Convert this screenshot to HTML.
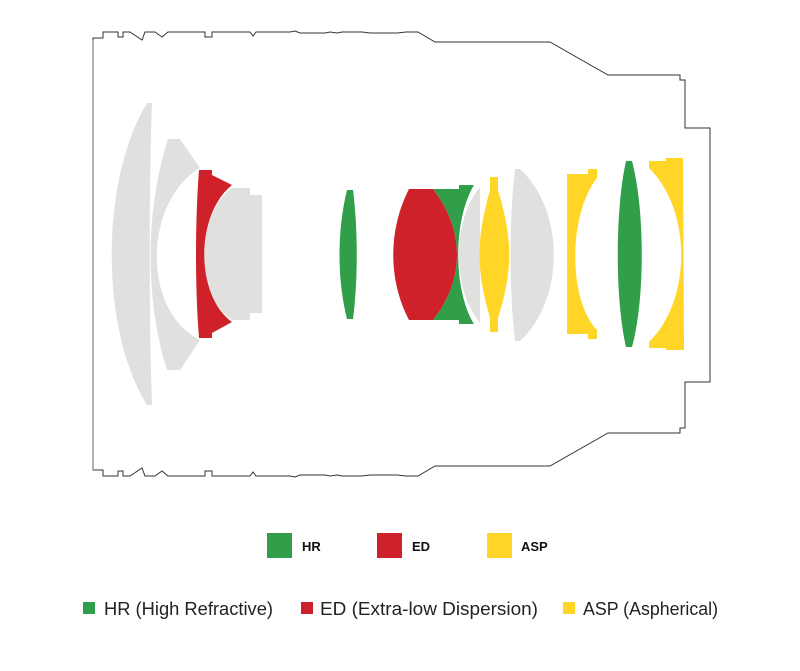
<!DOCTYPE html>
<html><head><meta charset="utf-8"><style>
html,body{margin:0;padding:0;background:#fff;}
svg{display:block;}
</style></head><body>
<svg width="800" height="671" viewBox="0 0 800 671" xmlns="http://www.w3.org/2000/svg">
<path d="M93,470 L93,38 L103,38 L103,32 L118,32 L118,37 L123,37 L123,32 L130,32 L142,40 L145,32 L155,32 L162,37 L168,32 L205,32 L205,37 L212,37 L212,32 L250,32 L253,36 L256,32 L290,32 L295,31 L300,33 L325,33 L330,32 L337,33 L342,32 L362,32 L370,33 L397,33 L406,32 L418,32 L435,42 L550,42 L608,75 L680,75 L680,80 L685,80 L685,128 L710,128 L710,382 L685,382 L685,428 L680,428 L680,433 L608,433 L550,466 L435,466 L418,476 L406,476 L397,475 L370,475 L362,476 L342,476 L337,475 L330,476 L325,475 L300,475 L295,477 L290,476 L256,476 L253,472 L250,476 L212,476 L212,471 L205,471 L205,476 L168,476 L162,471 L155,476 L145,476 L142,468 L130,476 L123,476 L123,471 L118,471 L118,476 L103,476 L103,470 Z" fill="none" stroke="#333" stroke-width="1"/>
<line x1="93" y1="40" x2="93" y2="470" stroke="#999" stroke-width="1.5"/>
<g fill="#e0e0df">
<path d="M147,103 L152,103 C 149,180 149,330 152,405 L147,405 C 100,330 100,180 147,103 Z"/>
<path d="M168,139 L180,139 L200,168 C 145,200 140,310 200,340 L180,370 L167,370 C 145,300 145,210 168,139 Z"/>
<path d="M232,188 L250,188 L250,195 L262,195 L262,313 L250,313 L250,320 L232,320 C 195,295 195,215 232,188 Z"/>
<path d="M480,187 L480,323 C 452,290 452,220 480,187 Z"/>
<path d="M515,169 L520,169 C 565,210 565,300 520,341 L515,341 C 509,290 509,220 515,169 Z"/>
</g>
<g fill="#cf2129">
<path d="M199,170 L212,170 L212,175 L232,185 C 195,215 195,295 232,322 L212,333 L212,338 L199,338 C 195,290 195,220 199,170 Z"/>
<path d="M409,189 L433,189 C 465,230 465,280 433,320 L409,320 C 388,280 388,230 409,189 Z"/>
</g>
<g fill="#319e4a">
<path d="M347,190 L353,190 C 358,230 358,280 353,319 L347,319 C 337,280 337,230 347,190 Z"/>
<path d="M433,189 L459,189 L459,185 L474,185 C 453,220 453,290 474,324 L459,324 L459,320 L433,320 C 465,280 465,230 433,189 Z"/>
<path d="M626,161 L632,161 C 645,210 645,300 632,347 L626,347 C 615,300 615,210 626,161 Z"/>
</g>
<g fill="#ffd527">
<path d="M490,177 L498,177 L498,190 C 513,240 513,270 498,318 L498,332 L490,332 L490,318 C 476,270 476,240 490,190 Z"/>
<path d="M567,174 L588,174 L588,169 L597,169 L597,178 C 568,215 568,300 597,330 L597,339 L588,339 L588,334 L567,334 Z"/>
<path d="M649,161 L666,161 L666,158 L683,158 L684,350 L666,350 L666,348 L649,348 L649,342 C 692,300 692,210 649,168 Z"/>
</g>
<rect x="267" y="533" width="25" height="25" fill="#319e4a"/>
<rect x="377" y="533" width="25" height="25" fill="#cf2129"/>
<rect x="487" y="533" width="25" height="25" fill="#ffd527"/>
<g font-family="Liberation Sans, sans-serif" font-weight="bold" font-size="13" fill="#111">
<text x="302" y="551">HR</text><text x="412" y="551">ED</text><text x="521" y="551">ASP</text>
</g>
<rect x="83" y="602" width="12" height="12" fill="#319e4a"/>
<rect x="301" y="602" width="12" height="12" fill="#cf2129"/>
<rect x="563" y="602" width="12" height="12" fill="#ffd527"/>
<g font-family="Liberation Sans, sans-serif" font-size="18" fill="#222">
<text x="104" y="615" textLength="169" lengthAdjust="spacingAndGlyphs">HR (High Refractive)</text>
<text x="320" y="615" textLength="218" lengthAdjust="spacingAndGlyphs">ED (Extra-low Dispersion)</text>
<text x="583" y="615" textLength="135" lengthAdjust="spacingAndGlyphs">ASP (Aspherical)</text>
</g>
</svg>
</body></html>
